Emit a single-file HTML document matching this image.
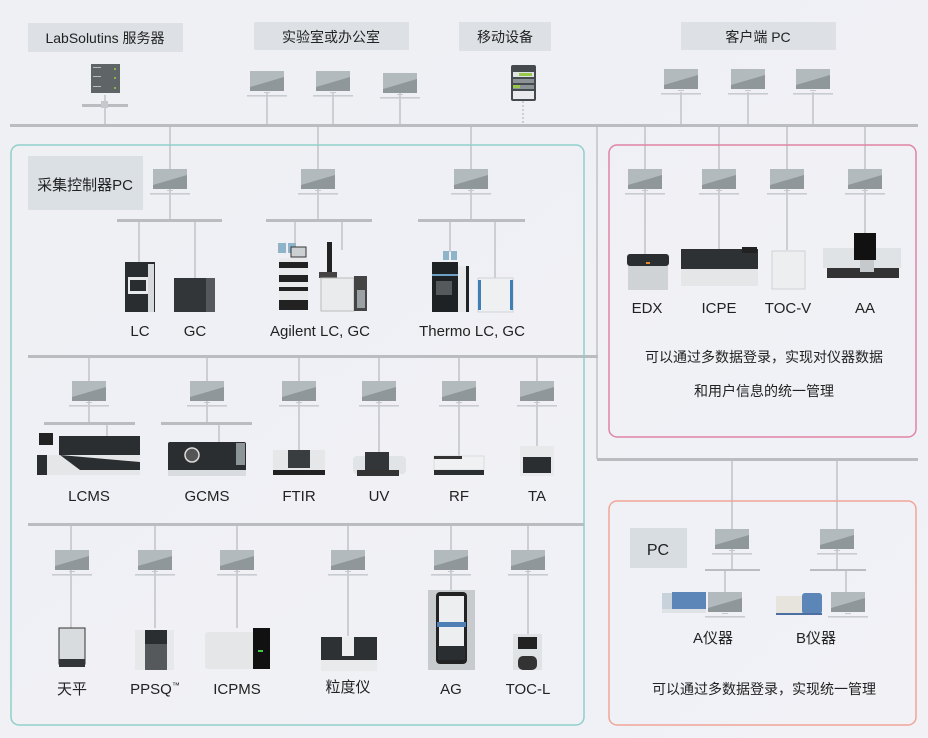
<!DOCTYPE html>
<html><head><meta charset="utf-8"><style>
html,body{margin:0;padding:0;width:928px;height:738px;overflow:hidden;background:#eff0f5}
svg{display:block}
text{font-family:"Liberation Sans","Noto Sans CJK SC",sans-serif;fill:#222}
</style></head><body>
<svg width="928" height="738" viewBox="0 0 928 738" xmlns="http://www.w3.org/2000/svg">
<defs>
<linearGradient id="bg" x1="0" y1="0" x2="1" y2="1"><stop offset="0" stop-color="#eef0f4"/><stop offset="1" stop-color="#f1f1f6"/></linearGradient>
<g id="pc">
<rect x="-17" y="-11" width="34" height="20" fill="#8f979b"/>
<polygon points="-17,-11 17,-11 17,-5 -17,5" fill="#b3babd"/>
<rect x="-3" y="10" width="6" height="1" fill="#c5c8cc"/>
<rect x="-20" y="13" width="40" height="1.6" fill="#c8cbd0"/>
</g>
</defs>
<rect width="928" height="738" fill="url(#bg)"/>

<!-- top labels -->
<rect x="28" y="23" width="155" height="29" fill="#dde1e5"/>
<text x="105" y="43" font-size="14" text-anchor="middle">LabSolutins 服务器</text>
<rect x="254" y="22" width="155" height="28" fill="#dde1e5"/>
<text x="331" y="42" font-size="14" text-anchor="middle">实验室或办公室</text>
<rect x="459" y="22" width="92" height="29" fill="#dde1e5"/>
<text x="505" y="42" font-size="14" text-anchor="middle">移动设备</text>
<rect x="681" y="22" width="155" height="28" fill="#dde1e5"/>
<text x="758" y="42" font-size="14" text-anchor="middle">客户端 PC</text>

<g stroke="#b5b7bc" stroke-width="1.2" fill="none">
<!-- top devices lines -->
<line x1="105" y1="95" x2="105" y2="125"/>
<line x1="267" y1="92" x2="267" y2="125"/><line x1="333" y1="92" x2="333" y2="125"/><line x1="400" y1="92" x2="400" y2="125"/>
<line x1="523" y1="101" x2="523" y2="125" stroke-dasharray="2 2"/>
<line x1="681" y1="92" x2="681" y2="125"/><line x1="748" y1="92" x2="748" y2="125"/><line x1="813" y1="92" x2="813" y2="125"/>
<!-- section1 -->
<line x1="170" y1="125" x2="170" y2="220"/><line x1="139" y1="220" x2="139" y2="262"/><line x1="195" y1="220" x2="195" y2="278"/>
<line x1="318" y1="125" x2="318" y2="220"/><line x1="295" y1="220" x2="295" y2="248"/><line x1="342" y1="220" x2="342" y2="250"/>
<line x1="471" y1="125" x2="471" y2="220"/><line x1="450" y1="220" x2="450" y2="252"/><line x1="495" y1="220" x2="495" y2="278"/>
<!-- right -->
<line x1="597" y1="125" x2="597" y2="459"/>
<line x1="645" y1="125" x2="645" y2="255"/><line x1="719" y1="125" x2="719" y2="250"/><line x1="787" y1="125" x2="787" y2="250"/><line x1="865" y1="125" x2="865" y2="235"/>
<line x1="732" y1="459" x2="732" y2="570"/><line x1="725" y1="570" x2="725" y2="593"/>
<line x1="837" y1="459" x2="837" y2="570"/><line x1="846" y1="570" x2="846" y2="593"/>
<!-- section2 -->
<line x1="89" y1="356" x2="89" y2="423"/><line x1="107" y1="423" x2="107" y2="440"/>
<line x1="207" y1="356" x2="207" y2="423"/><line x1="219" y1="423" x2="219" y2="442"/>
<line x1="299" y1="356" x2="299" y2="450"/><line x1="379" y1="356" x2="379" y2="452"/>
<line x1="459" y1="356" x2="459" y2="456"/><line x1="537" y1="356" x2="537" y2="446"/>
<!-- section3 -->
<line x1="71" y1="524" x2="71" y2="628"/><line x1="155" y1="524" x2="155" y2="628"/><line x1="237" y1="524" x2="237" y2="628"/>
<line x1="348" y1="524" x2="348" y2="636"/><line x1="451" y1="524" x2="451" y2="620"/><line x1="528" y1="524" x2="528" y2="634"/>
</g>

<!-- bars -->
<g fill="#babcc0">
<rect x="10" y="124" width="908" height="3"/>
<rect x="597" y="458" width="321" height="3"/>
<rect x="117" y="219" width="105" height="3"/><rect x="266" y="219" width="106" height="3"/><rect x="418" y="219" width="107" height="3"/>
<rect x="28" y="355" width="570" height="3"/><rect x="28" y="523" width="556" height="3"/>
<rect x="44" y="422" width="91" height="3"/><rect x="161" y="422" width="91" height="3"/>
<rect x="705" y="569" width="55" height="2"/><rect x="810" y="569" width="56" height="2"/>
<rect x="82" y="104" width="46" height="3"/>
</g>

<!-- boxes -->
<rect x="11" y="145" width="573" height="580" rx="8" fill="none" stroke="#8fcfcb" stroke-width="1.5"/>
<rect x="609" y="145" width="307" height="292" rx="8" fill="none" stroke="#df84a3" stroke-width="1.5"/>
<rect x="609" y="501" width="307" height="224" rx="8" fill="none" stroke="#f0a596" stroke-width="1.5"/>
<rect x="28" y="156" width="115" height="54" fill="#dbe0e4"/>
<text x="85" y="190" font-size="15" text-anchor="middle">采集控制器PC</text>
<rect x="630" y="528" width="57" height="40" fill="#d7dde1"/>
<text x="658" y="555" font-size="16" text-anchor="middle">PC</text>

<!-- server -->
<rect x="91" y="64" width="29" height="29" fill="#5f6567"/>
<g fill="#b8bdbf"><rect x="93" y="67" width="8" height="1"/><rect x="93" y="76" width="8" height="1"/><rect x="93" y="86" width="8" height="1"/></g>
<g fill="#9acd3a"><circle cx="115" cy="69" r="1"/><circle cx="115" cy="78" r="1"/><circle cx="115" cy="88" r="1"/></g>
<rect x="101" y="101" width="7" height="7" fill="#c5c8cc"/>
<!-- mobile -->
<rect x="511" y="65" width="25" height="36" rx="2" fill="#444a4d"/>
<rect x="513" y="72" width="21" height="5" fill="#dfe3e5"/><rect x="519" y="73" width="13" height="3" fill="#9ac94a"/>
<rect x="513" y="79" width="21" height="4" fill="#8c9396"/><rect x="513" y="85" width="21" height="4" fill="#8c9396"/><rect x="513" y="85" width="7" height="3" fill="#9ac94a"/>
<rect x="513" y="91" width="21" height="8" fill="#e8eaec"/>

<!-- PCs -->
<g>
<use href="#pc" x="267" y="82"/><use href="#pc" x="333" y="82"/><use href="#pc" x="400" y="84"/>
<use href="#pc" x="681" y="80"/><use href="#pc" x="748" y="80"/><use href="#pc" x="813" y="80"/>
<use href="#pc" x="170" y="180"/><use href="#pc" x="318" y="180"/><use href="#pc" x="471" y="180"/>
<use href="#pc" x="645" y="180"/><use href="#pc" x="719" y="180"/><use href="#pc" x="787" y="180"/><use href="#pc" x="865" y="180"/>
<use href="#pc" x="732" y="540"/><use href="#pc" x="837" y="540"/>
<use href="#pc" x="725" y="603"/><use href="#pc" x="848" y="603"/>
<use href="#pc" x="89" y="392"/><use href="#pc" x="207" y="392"/><use href="#pc" x="299" y="392"/><use href="#pc" x="379" y="392"/><use href="#pc" x="459" y="392"/><use href="#pc" x="537" y="392"/>
<use href="#pc" x="72" y="561"/><use href="#pc" x="155" y="561"/><use href="#pc" x="237" y="561"/><use href="#pc" x="348" y="561"/><use href="#pc" x="451" y="561"/><use href="#pc" x="528" y="561"/>
</g>

<!-- section1 instruments -->
<rect x="125" y="262" width="30" height="50" fill="#2a2d2f"/><rect x="128" y="277" width="20" height="17" fill="#e8eaeb"/><rect x="130" y="280" width="16" height="11" fill="#2a2d2f"/><rect x="148" y="264" width="6" height="48" fill="#d7dadc"/>
<rect x="174" y="278" width="41" height="34" fill="#333638"/><rect x="206" y="278" width="9" height="34" fill="#55595b"/>
<!-- agilent -->
<rect x="278" y="243" width="8" height="10" fill="#8fb3c8"/><rect x="288" y="243" width="8" height="10" fill="#8fb3c8"/><rect x="291" y="247" width="15" height="10" fill="#ccd0d3" stroke="#333" stroke-width="1"/>
<rect x="279" y="258" width="29" height="52" fill="#e8eaec"/>
<g fill="#222"><rect x="279" y="262" width="29" height="6"/><rect x="279" y="275" width="29" height="7"/><rect x="279" y="287" width="29" height="4"/><rect x="279" y="300" width="29" height="10"/></g>
<rect x="327" y="242" width="5" height="32" fill="#222"/><rect x="319" y="272" width="18" height="6" fill="#444"/>
<rect x="321" y="278" width="33" height="33" fill="#e9ebec" stroke="#bbb"/><rect x="354" y="276" width="13" height="35" fill="#444"/><rect x="357" y="290" width="8" height="18" fill="#9aa0a3"/>
<!-- thermo -->
<rect x="443" y="251" width="6" height="9" fill="#8fb3c8"/><rect x="451" y="251" width="6" height="9" fill="#8fb3c8"/>
<rect x="432" y="262" width="26" height="50" fill="#1f2224"/><rect x="436" y="281" width="16" height="14" fill="#55595b"/><rect x="432" y="274" width="26" height="2" fill="#6ea0c6"/>
<rect x="458" y="266" width="8" height="46" fill="#e6e8ea"/><rect x="466" y="266" width="3" height="46" fill="#1f2224"/>
<rect x="478" y="278" width="35" height="34" fill="#eef0f2" stroke="#d0d3d5"/><rect x="478" y="280" width="3" height="30" fill="#3f7fb8"/><rect x="510" y="280" width="3" height="30" fill="#3f7fb8"/>

<!-- pink instruments -->
<rect x="627" y="254" width="42" height="12" rx="3" fill="#2b2e30"/><rect x="628" y="266" width="40" height="24" fill="#cfd3d5"/><rect x="646" y="262" width="4" height="2" fill="#e88a2e"/>
<rect x="681" y="249" width="77" height="20" fill="#2e3133"/><rect x="681" y="269" width="77" height="17" fill="#e4e6e8"/><rect x="742" y="247" width="15" height="6" fill="#222"/>
<rect x="772" y="251" width="33" height="38" fill="#eceeef" stroke="#cfd2d4"/>
<rect x="823" y="248" width="78" height="20" fill="#e0e3e5"/><rect x="854" y="233" width="22" height="27" fill="#111"/><rect x="827" y="268" width="72" height="10" fill="#333"/><rect x="860" y="260" width="14" height="12" fill="#c6c9cb"/>

<!-- salmon instruments -->
<rect x="662" y="593" width="22" height="16" fill="#c8d2da"/><rect x="672" y="592" width="34" height="20" fill="#5c86b8"/><rect x="662" y="609" width="44" height="4" fill="#dfe3e5"/>
<rect x="776" y="596" width="28" height="18" fill="#e7e3dd"/><rect x="802" y="593" width="20" height="21" rx="3" fill="#5c86b8"/><rect x="776" y="613" width="46" height="2" fill="#4a6fa0"/>

<!-- section2 instruments -->
<rect x="59" y="436" width="81" height="38" fill="#2b2e30"/><rect x="37" y="455" width="103" height="20" fill="#e4e6e8"/><polygon points="60,455 140,462 140,470 80,470" fill="#2b2e30"/><rect x="39" y="433" width="14" height="12" fill="#222"/><rect x="37" y="455" width="10" height="20" fill="#2b2e30"/>
<rect x="168" y="442" width="78" height="34" rx="2" fill="#2b2e30"/><circle cx="192" cy="455" r="7" fill="#555" stroke="#ddd" stroke-width="1.5"/><rect x="236" y="443" width="9" height="22" fill="#8e9598"/><rect x="168" y="470" width="78" height="6" fill="#d9dcde"/>
<rect x="273" y="450" width="52" height="22" fill="#e5e7e9"/><rect x="288" y="450" width="22" height="18" fill="#3a3d3f"/><rect x="273" y="470" width="52" height="5" fill="#222"/>
<rect x="353" y="456" width="53" height="18" rx="4" fill="#e1e4e6"/><rect x="365" y="452" width="24" height="18" fill="#333638"/><rect x="357" y="470" width="42" height="6" fill="#333"/>
<rect x="434" y="456" width="50" height="14" fill="#f0f1f2" stroke="#d8dbdd"/><rect x="434" y="456" width="28" height="3" fill="#333"/><rect x="434" y="470" width="50" height="5" fill="#2b2e30"/>
<rect x="520" y="446" width="34" height="30" fill="#e7e9eb"/><rect x="523" y="457" width="28" height="16" fill="#2b2e30"/>

<!-- section3 instruments -->
<rect x="59" y="628" width="26" height="36" fill="#d8dcde" stroke="#333" stroke-width="1"/><rect x="59" y="659" width="26" height="8" fill="#333638"/>
<rect x="135" y="630" width="39" height="40" fill="#e6e8ea"/><rect x="145" y="630" width="22" height="14" fill="#2b2e30"/><rect x="145" y="644" width="22" height="26" fill="#55595b"/>
<rect x="205" y="632" width="50" height="37" rx="3" fill="#e4e6e8"/><rect x="253" y="628" width="17" height="41" fill="#111"/><rect x="258" y="650" width="5" height="2" fill="#4c4"/>
<rect x="321" y="637" width="56" height="23" fill="#2e3133"/><rect x="342" y="637" width="12" height="19" fill="#eceeef"/><rect x="321" y="660" width="56" height="11" fill="#e8eaec"/>
<rect x="428" y="590" width="47" height="80" fill="#c8cbcd"/><rect x="436" y="592" width="31" height="72" fill="#222" rx="4"/><rect x="439" y="596" width="25" height="50" fill="#eceeef"/><rect x="437" y="622" width="29" height="5" fill="#4f7fb5"/><rect x="438" y="646" width="27" height="14" fill="#2b2e30"/>
<rect x="513" y="634" width="29" height="36" fill="#e0e3e5"/><rect x="518" y="637" width="19" height="12" fill="#222"/><rect x="518" y="656" width="19" height="14" rx="5" fill="#333"/>

<!-- labels -->
<g font-size="15" text-anchor="middle">
<text x="140" y="336">LC</text><text x="195" y="336">GC</text>
<text x="320" y="336">Agilent LC, GC</text><text x="472" y="336">Thermo LC, GC</text>
<text x="89" y="501">LCMS</text><text x="207" y="501">GCMS</text><text x="299" y="501">FTIR</text><text x="379" y="501">UV</text><text x="459" y="501">RF</text><text x="537" y="501">TA</text>
<text x="72" y="694">天平</text><text x="155" y="694">PPSQ<tspan font-size="8" dy="-6">™</tspan></text><text x="237" y="694">ICPMS</text><text x="348" y="692">粒度仪</text><text x="451" y="694">AG</text><text x="528" y="694">TOC-L</text>
<text x="647" y="313">EDX</text><text x="719" y="313">ICPE</text><text x="788" y="313">TOC-V</text><text x="865" y="313">AA</text>
<text x="713" y="643">A仪器</text><text x="816" y="643">B仪器</text>
</g>
<g font-size="14" text-anchor="middle">
<text x="764" y="362">可以通过多数据登录，实现对仪器数据</text>
<text x="764" y="396">和用户信息的统一管理</text>
<text x="764" y="694">可以通过多数据登录，实现统一管理</text>
</g>
</svg>
</body></html>
